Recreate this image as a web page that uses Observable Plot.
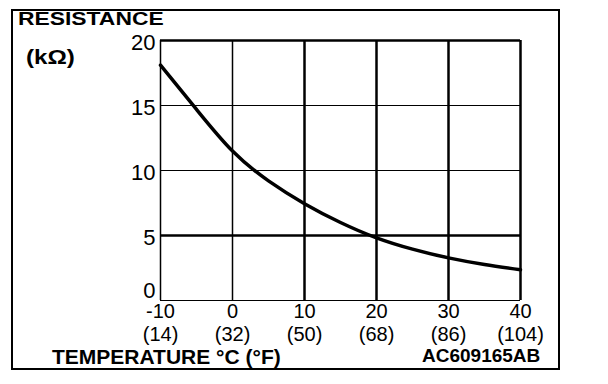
<!DOCTYPE html>
<html>
<head>
<meta charset="utf-8">
<script src="https://cdn.jsdelivr.net/npm/d3@7"></script>
<script src="https://cdn.jsdelivr.net/npm/@observablehq/plot@0.6"></script>
<style>
  html, body { margin: 0; padding: 0; background: #fff; }
  #wrap { position: relative; width: 608px; height: 384px; font-family: "Liberation Sans", Arial, sans-serif; color: #000; }
  #wrap svg { position: absolute; left: 0; top: 0; }
  .lbl { position: absolute; font-weight: bold; line-height: 1; white-space: nowrap; transform-origin: left top; }
  #border { position: absolute; left: 11px; top: 9px; width: 549px; height: 361px; box-sizing: border-box; border: 2px solid #000; }
</style>
</head>
<body>
<div id="wrap">
  <div id="border"></div>
  <div id="chart"></div>
  <div class="lbl" style="left:18px; top:10px; font-size:18px; line-height:18px; transform:scaleX(1.27);">RESISTANCE</div>
  <div class="lbl" style="left:26px; top:46px; font-size:21px; transform:scaleX(1.15);">(kΩ)</div>
  <div class="lbl" style="left:52px; top:346px; font-size:21px;">TEMPERATURE °C (°F)</div>
  <div class="lbl" style="left:422px; top:346px; font-size:19px;">AC609165AB</div>
</div>
<script>
// Data
const temperatureC = [-10, -5, 0, 5, 10, 15, 20, 25, 30, 35, 40];
const resistanceK = [18.1, 14.7, 11.5, 9.2, 7.45, 6.0, 4.82, 3.95, 3.28, 2.77, 2.36];
const xTicks = [-10, 0, 10, 20, 30, 40];
const fTicks = [14, 32, 50, 68, 86, 104];
const yTicks = [0, 5, 10, 15, 20];

const points = temperatureC.map((t, i) => ({t, r: resistanceK[i]}));
const fByC = new Map(xTicks.map((c, i) => [c, fTicks[i]]));

const chart = Plot.plot({
  width: 608,
  height: 384,
  marginLeft: 160,
  marginRight: 88,
  marginTop: 40,
  marginBottom: 84,
  x: {domain: [-10, 40]},
  y: {domain: [0, 20]},
  style: {fontFamily: "'Liberation Sans', Arial, sans-serif", color: "#000", background: "transparent"},
  marks: [
    Plot.ruleY([15, 10], {strokeWidth: 1}),
    Plot.ruleY([5], {strokeWidth: 2.5}),
    Plot.ruleX([0], {strokeWidth: 1.5}),
    Plot.ruleX([10, 20, 30], {strokeWidth: 2.5}),
    Plot.ruleX([-10], {strokeWidth: 1.5}),
    Plot.ruleX([40], {strokeWidth: 2.5}),
    Plot.ruleY([0], {strokeWidth: 1}),
    Plot.ruleY([20], {strokeWidth: 2.5}),
    Plot.line(points, {x: "t", y: "r", curve: "natural", strokeWidth: 3.5, stroke: "#000"}),
    Plot.axisY(yTicks.filter(v => v !== 0), {tickSize: 0, tickPadding: 5, fontSize: 22, label: null, dy: 2}),
    Plot.axisY(yTicks.filter(v => v === 0), {tickSize: 0, tickPadding: 5, fontSize: 22, label: null, dy: -10}),
    Plot.axisX(xTicks, {tickSize: 0, tickPadding: 3, fontSize: 20, label: null, tickFormat: d => String(d)}),
    Plot.axisX(xTicks, {tickSize: 0, tickPadding: 26, fontSize: 20, label: null, tickFormat: d => `(${fByC.get(d)})`})
  ]
});
document.getElementById("chart").appendChild(chart);
</script>
</body>
</html>
